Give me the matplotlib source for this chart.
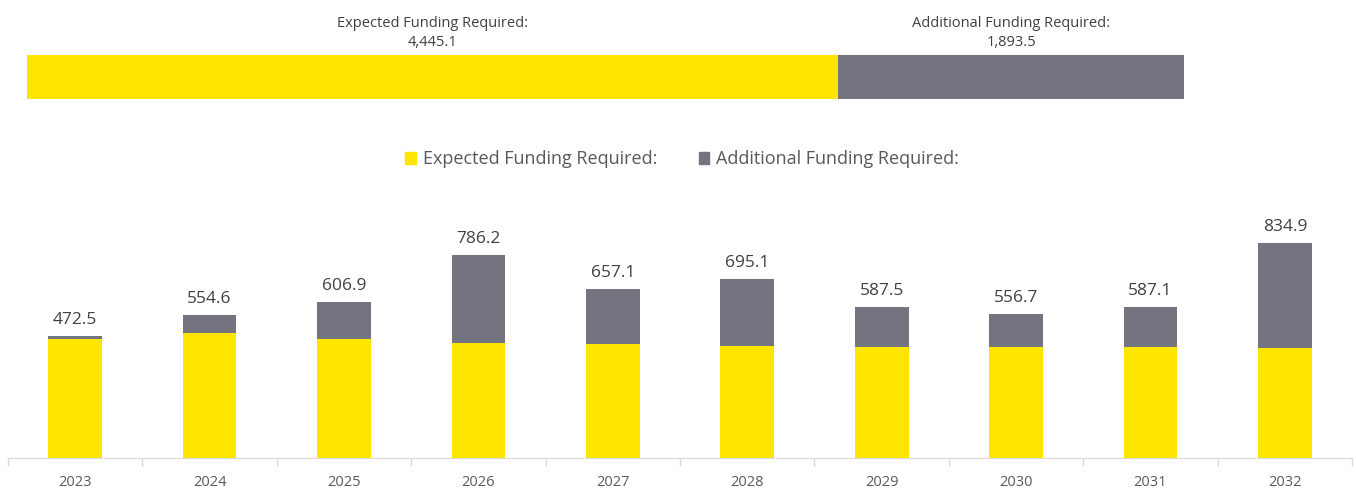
import numpy as np
import matplotlib
matplotlib.use("Agg")
import matplotlib.pyplot as plt
from matplotlib.patches import Patch

years = ["2023", "2024", "2025", "2026", "2027", "2028", "2029", "2030", "2031", "2032"]
expected = [462.0, 485.3, 462.0, 446.5, 442.5, 432.5, 428.6, 428.6, 428.6, 428.5]
additional = [10.5, 69.3, 144.9, 339.7, 214.6, 262.6, 158.9, 128.1, 158.5, 406.4]
totals = [472.5, 554.6, 606.9, 786.2, 657.1, 695.1, 587.5, 556.7, 587.1, 834.9]
summary_labels = ["Expected Funding Required:", "Additional Funding Required:"]
summary_values = [4445.1, 1893.5]

YELLOW = "#FFE600"
GREY = "#747480"
TXT = "#404040"

plt.rcParams["font.family"] = ["Open Sans", "DejaVu Sans"]

fig = plt.figure(figsize=(13.56, 4.93), dpi=100)

# top summary bar
ax0 = fig.add_axes([0.0199, 0.7992, 0.8533, 0.0892])
ax0.barh(0, summary_values[0], height=1.0, color=YELLOW, left=0)
ax0.barh(0, summary_values[1], height=1.0, color=GREY, left=summary_values[0])
ax0.set_xlim(0, sum(summary_values))
ax0.set_ylim(-0.5, 0.5)
ax0.axis("off")
lefts = [0, summary_values[0]]
for lab, v, l in zip(summary_labels, summary_values, lefts):
    ax0.text(l + v / 2, 0.62, f"{lab}\n{v:,.1f}", ha="center", va="bottom",
             fontsize=10.5, color=TXT, linespacing=1.35)

# yearly stacked columns
ax = fig.add_axes([0.0059, 0.071, 0.9912, 0.523])
x = np.arange(len(years))
ax.bar(x, expected, width=0.4, color=YELLOW)
ax.bar(x, additional, width=0.4, bottom=expected, color=GREY)
for xi, t in zip(x, totals):
    ax.text(xi, t + 62, f"{t:.1f}", ha="center", va="center", fontsize=12.5, color=TXT)
ax.set_xlim(-0.5, len(years) - 0.5)
ax.set_ylim(0, 1000)
for s in ["top", "right", "left"]:
    ax.spines[s].set_visible(False)
ax.spines["bottom"].set_color("#d9d9d9")
ax.set_yticks([])
ax.set_xticks(x)
ax.set_xticklabels(years, fontsize=10.5, color="#595959")
ax.tick_params(axis="x", which="major", length=0, pad=12)
ax.set_xticks(np.arange(-0.5, len(years)), minor=True)
ax.tick_params(axis="x", which="minor", length=6, color="#d9d9d9", width=1)

handles = [Patch(color=YELLOW), Patch(color=GREY)]
fig.legend(handles, summary_labels, loc="center", bbox_to_anchor=(0.503, 0.677), ncol=2,
           frameon=False, fontsize=13, labelcolor="#595959", handlelength=0.6,
           handleheight=0.6, handletextpad=0.35, columnspacing=2.3)

fig.savefig("out.png", dpi=100)
